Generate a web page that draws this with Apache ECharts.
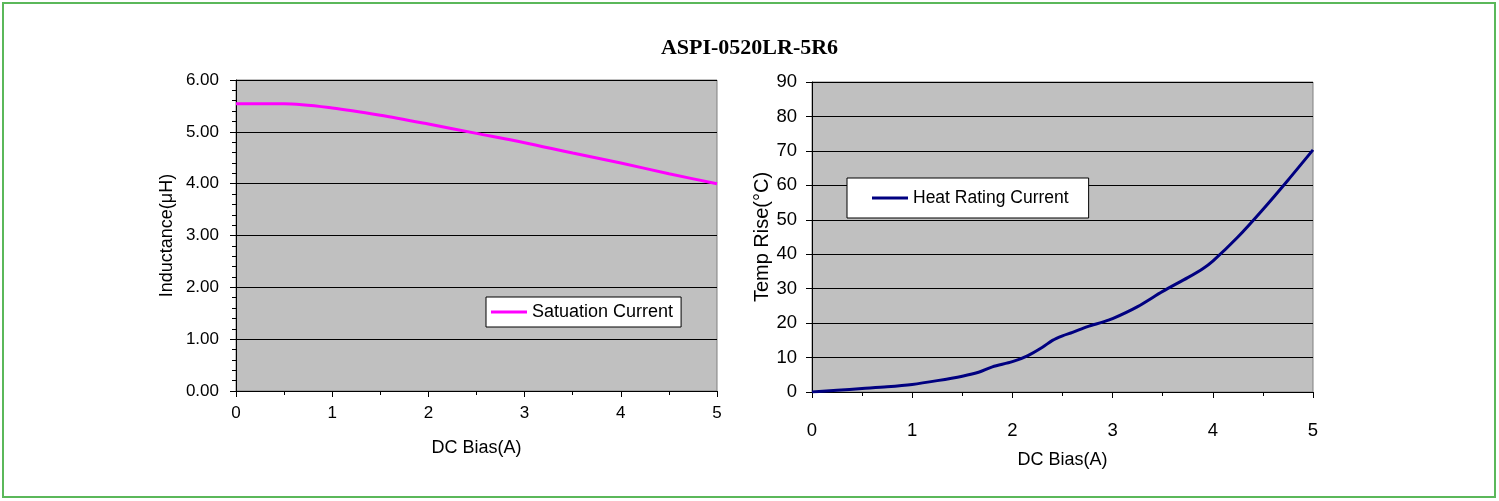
<!DOCTYPE html>
<html>
<head>
<meta charset="utf-8">
<script src="https://cdn.jsdelivr.net/npm/echarts@6/dist/echarts.min.js"></script>
<style>
html,body{margin:0;padding:0;background:#fff;}
#c{width:1499px;height:501px;}
</style>
</head>
<body>
<div id="c"></div>
<script>
const titleText = 'ASPI-0520LR-5R6';
const satName = 'Satuation Current';
const heatName = 'Heat Rating Current';
const satBias = [0, 0.5, 1, 1.5, 2, 2.5, 3, 3.5, 4, 4.5, 5];
const satInductance = [5.54, 5.54, 5.46, 5.32, 5.15, 4.97, 4.79, 4.59, 4.40, 4.19, 4.00];
const heatBias = [0, 0.25, 0.5, 0.75, 1, 1.25, 1.5, 1.67, 1.8, 2, 2.15, 2.3, 2.4, 2.5, 2.6, 2.75, 2.9, 3, 3.25, 3.5, 3.75, 3.9, 4, 4.25, 4.5, 4.75, 5];
const heatRise = [0, 0.5, 1, 1.5, 2.2, 3.3, 4.6, 5.8, 7.3, 8.8, 10.5, 13, 15, 16.3, 17.3, 19, 20.3, 21.3, 24.8, 29.2, 33.2, 35.8, 38, 45, 53, 61.5, 70.3];

const chart = echarts.init(document.getElementById('c'), null, {renderer: 'canvas'});
const SANS = 'Liberation Sans, Arial, sans-serif';
const labL = {color: '#000', fontFamily: SANS, fontSize: 17};
const nameL = {color: '#000', fontFamily: SANS, fontSize: 18};
const labR = {color: '#000', fontFamily: SANS, fontSize: 18.5};
const nameR = {color: '#000', fontFamily: SANS, fontSize: 18};

chart.setOption({
  animation: false,
  backgroundColor: '#fff',
  title: {
    text: titleText, left: 'center', top: 32,
    textStyle: {fontFamily: 'Liberation Serif, Times New Roman, serif', fontWeight: 'bold', fontSize: 22, color: '#000'}
  },
  graphic: [{
    type: 'rect', shape: {x: 3, y: 3, width: 1492, height: 494},
    style: {fill: 'none', stroke: '#5BB85A', lineWidth: 2}, silent: true
  }],
  legend: [
    {
      data: [satName], left: 486, top: 297, orient: 'horizontal',
      backgroundColor: '#fff', borderColor: '#000', borderWidth: 1,
      padding: [6, 8, 6, 5], itemWidth: 36, itemHeight: 3, itemGap: 0,
      icon: 'rect', textStyle: {color: '#000', fontFamily: SANS, fontSize: 18}
    },
    {
      data: [heatName], left: 847, top: 178, orient: 'horizontal',
      backgroundColor: '#fff', borderColor: '#000', borderWidth: 1,
      padding: [11, 20, 11, 25], itemWidth: 36, itemHeight: 3, itemGap: 0,
      icon: 'rect', textStyle: {color: '#000', fontFamily: SANS, fontSize: 17.5}
    }
  ],
  grid: [
    {left: 236, top: 80, width: 481, height: 311, show: true, backgroundColor: '#C0C0C0', borderColor: '#808080', borderWidth: 1},
    {left: 812, top: 82, width: 501, height: 310, show: true, backgroundColor: '#C0C0C0', borderColor: '#808080', borderWidth: 1}
  ],
  xAxis: [
    {
      type: 'value', gridIndex: 0, min: 0, max: 5, interval: 1,
      name: 'DC Bias(A)', nameLocation: 'middle', nameGap: 48, nameTextStyle: nameL,
      axisLine: {show: true, lineStyle: {color: '#000', width: 1}},
      axisTick: {show: true, length: 6, lineStyle: {color: '#000'}},
      minorTick: {show: true, splitNumber: 2, length: 4, lineStyle: {color: '#000'}},
      axisLabel: Object.assign({margin: 14}, labL),
      splitLine: {show: false}
    },
    {
      type: 'value', gridIndex: 1, min: 0, max: 5, interval: 1,
      name: 'DC Bias(A)', nameLocation: 'middle', nameGap: 59, nameTextStyle: nameR,
      axisLine: {show: true, lineStyle: {color: '#000', width: 1}},
      axisTick: {show: true, length: 6, lineStyle: {color: '#000'}},
      minorTick: {show: true, splitNumber: 2, length: 4, lineStyle: {color: '#000'}},
      axisLabel: Object.assign({margin: 29}, labR),
      splitLine: {show: false}
    }
  ],
  yAxis: [
    {
      type: 'value', gridIndex: 0, min: 0, max: 6, interval: 1,
      name: 'Inductance(μH)', nameLocation: 'middle', nameRotate: 90, nameGap: 60, nameTextStyle: nameL,
      axisLine: {show: true, lineStyle: {color: '#000', width: 1}},
      axisTick: {show: true, length: 6, lineStyle: {color: '#000'}},
      minorTick: {show: true, splitNumber: 5, length: 4, lineStyle: {color: '#000'}},
      axisLabel: Object.assign({margin: 17, formatter: v => v.toFixed(2)}, labL),
      splitLine: {show: true, lineStyle: {color: '#000', width: 1}}
    },
    {
      type: 'value', gridIndex: 1, min: 0, max: 90, interval: 10,
      name: 'Temp Rise(°C)', nameLocation: 'middle', nameRotate: 90, nameGap: 35, nameTextStyle: {color: '#000', fontFamily: SANS, fontSize: 20},
      axisLine: {show: true, lineStyle: {color: '#000', width: 1}},
      axisTick: {show: true, length: 6, lineStyle: {color: '#000'}},
      axisLabel: Object.assign({margin: 15}, labR),
      splitLine: {show: true, lineStyle: {color: '#000', width: 1}}
    }
  ],
  series: [
    {
      name: satName, type: 'line', xAxisIndex: 0, yAxisIndex: 0,
      data: satBias.map((x, i) => [x, satInductance[i]]),
      smooth: 0.3, symbol: 'none', lineStyle: {color: '#FF00FF', width: 3}, itemStyle: {color: '#FF00FF'}
    },
    {
      name: heatName, type: 'line', xAxisIndex: 1, yAxisIndex: 1,
      data: heatBias.map((x, i) => [x, heatRise[i]]),
      smooth: 0.3, symbol: 'none', lineStyle: {color: '#000080', width: 3}, itemStyle: {color: '#000080'}
    }
  ]
});
</script>
</body>
</html>
